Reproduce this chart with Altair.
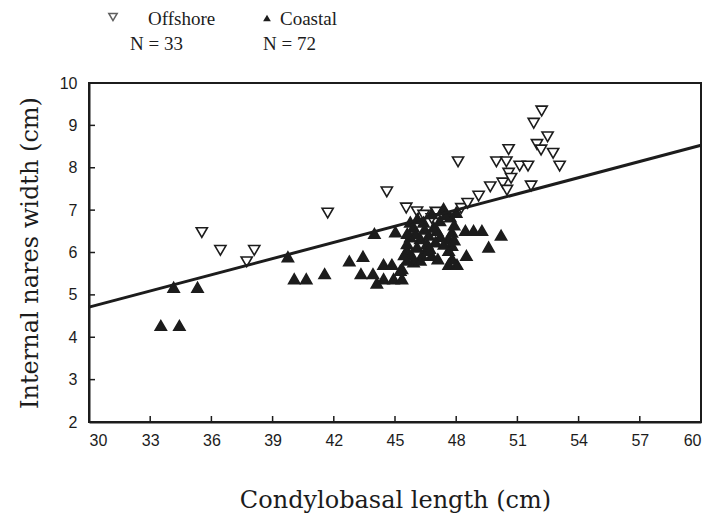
import altair as alt
import pandas as pd

# ---- data ----
offshore_x = [35.53, 36.44, 37.73, 38.10, 41.70, 44.60, 45.55, 46.08, 46.40, 48.09,
              48.25, 48.56, 49.10, 49.67, 49.97, 50.28, 50.46, 50.49, 50.57, 50.57,
              50.69, 51.11, 51.52, 51.67, 51.80, 51.96, 52.16, 52.19, 52.48, 52.75,
              53.07, 47.00, 46.80]
offshore_y = [6.47, 6.05, 5.78, 6.05, 6.93, 7.43, 7.05, 6.96, 6.88, 8.14,
              7.04, 7.16, 7.33, 7.55, 8.14, 7.64, 8.14, 7.47, 8.43, 7.87,
              7.75, 8.04, 8.04, 7.57, 9.05, 8.55, 8.42, 9.34, 8.73, 8.34,
              8.04, 6.95, 6.80]

coastal_x = [33.52, 34.43, 34.15, 35.32, 39.75, 40.06, 40.65, 41.55, 42.76, 43.43,
             43.33, 43.92, 44.11, 44.44, 44.85, 44.44, 44.93, 45.34, 43.99, 45.02,
             45.34, 46.80, 47.38, 47.71, 46.40, 45.91, 48.45, 48.85, 49.26, 50.20,
             49.59, 48.50, 47.63, 48.04, 46.80, 46.32, 45.91, 45.59, 47.79, 47.63,
             47.79, 47.22, 47.06, 46.65, 46.24, 45.75, 45.59, 45.59, 46.08, 46.57,
             46.98, 47.63, 46.24, 45.26, 45.75, 45.80, 46.00, 46.50, 46.90, 47.20,
             47.50, 47.90, 47.90, 46.10, 45.60, 46.70, 47.40, 47.10, 48.00, 46.45,
             45.45, 47.80]
coastal_y = [4.28, 4.28, 5.18, 5.18, 5.90, 5.38, 5.38, 5.50, 5.80, 5.91,
             5.50, 5.50, 5.28, 5.72, 5.72, 5.38, 5.38, 5.38, 6.45, 6.49,
             5.62, 6.92, 7.04, 6.84, 6.72, 6.60, 6.52, 6.52, 6.52, 6.41,
             6.13, 5.93, 5.72, 5.72, 5.93, 5.93, 5.78, 5.82, 6.17, 6.33,
             6.48, 6.38, 6.52, 6.41, 6.33, 6.37, 6.21, 6.05, 6.13, 6.21,
             6.25, 6.05, 5.82, 5.58, 6.72, 5.95, 6.45, 6.05, 6.60, 6.75,
             6.90, 6.65, 6.30, 6.80, 6.45, 6.10, 6.20, 5.85, 6.95, 6.55,
             5.95, 5.85]

fit_x = [30, 60]
fit_y = [4.71, 8.53]

groups = ["Offshore", "Coastal"]
n_labels = ["N = 33", "N = 72"]
x_ticks = [30, 33, 36, 39, 42, 45, 48, 51, 54, 57, 60]
y_ticks = [2, 3, 4, 5, 6, 7, 8, 9, 10]
x_inner_ticks = [33, 36, 39, 42, 45, 48, 51, 54, 57]
y_inner_ticks = [3, 4, 5, 6, 7, 8, 9]

W, H = 612, 339
INK = "#1c1c1c"
TITLE_FONT = "DejaVu Serif"

pts = pd.concat([
    pd.DataFrame({"x": offshore_x, "y": offshore_y, "g": groups[0]}),
    pd.DataFrame({"x": coastal_x, "y": coastal_y, "g": groups[1]}),
], ignore_index=True)

xs = alt.Scale(domain=[30, 60], nice=False, zero=False)
ys = alt.Scale(domain=[2, 10], nice=False, zero=False)

xaxis = alt.Axis(values=x_ticks, title="Condylobasal length (cm)", ticks=False,
                 labelPadding=10, titlePadding=40, grid=False,
                 titleFont=TITLE_FONT, titleFontSize=24)
yaxis = alt.Axis(values=y_ticks, title="Internal nares width (cm)", ticks=False,
                 labelPadding=12, titlePadding=17, grid=False, format="d",
                 titleFont=TITLE_FONT, titleFontSize=24)

points = alt.Chart(pts).mark_point(filled=True, stroke=INK, strokeWidth=1.6,
                                   size=125, opacity=1).encode(
    x=alt.X("x:Q", scale=xs, axis=xaxis),
    y=alt.Y("y:Q", scale=ys, axis=yaxis),
    shape=alt.Shape("g:N", scale=alt.Scale(domain=groups,
                                            range=["triangle-down", "triangle-up"]),
                    legend=None),
    fill=alt.Fill("g:N", scale=alt.Scale(domain=groups, range=["white", INK]),
                  legend=None),
)

fit = alt.Chart(pd.DataFrame({"x": fit_x, "y": fit_y})).mark_line(
    color=INK, strokeWidth=3).encode(
    x=alt.X("x:Q", scale=xs), y=alt.Y("y:Q", scale=ys))

xt = alt.Chart(pd.DataFrame({"t": x_inner_ticks})).mark_rule(
    color=INK, strokeWidth=1.5).encode(
    x=alt.X("t:Q", scale=xs), y=alt.value(H), y2=alt.value(H - 6))
yt = alt.Chart(pd.DataFrame({"t": y_inner_ticks})).mark_rule(
    color=INK, strokeWidth=1.5).encode(
    y=alt.Y("t:Q", scale=ys), x=alt.value(0), x2=alt.value(6))

one = pd.DataFrame({"k": [0]})
lg_font = "Liberation Serif"
leg = [
    alt.Chart(one).mark_point(shape="triangle-down", filled=False, stroke=INK,
                              strokeWidth=1.5, size=70).encode(
        x=alt.value(24), y=alt.value(-66)),
    alt.Chart(one).mark_text(align="left", baseline="middle", font=lg_font,
                             fontSize=19, color=INK).encode(
        x=alt.value(59), y=alt.value(-64), text=alt.value(groups[0])),
    alt.Chart(one).mark_point(shape="triangle-up", filled=True, fill=INK,
                              size=60, opacity=1).encode(
        x=alt.value(178), y=alt.value(-65)),
    alt.Chart(one).mark_text(align="left", baseline="middle", font=lg_font,
                             fontSize=19, color=INK).encode(
        x=alt.value(191), y=alt.value(-64), text=alt.value(groups[1])),
    alt.Chart(one).mark_text(align="left", baseline="middle", font=lg_font,
                             fontSize=19, color=INK).encode(
        x=alt.value(41), y=alt.value(-39), text=alt.value(n_labels[0])),
    alt.Chart(one).mark_text(align="left", baseline="middle", font=lg_font,
                             fontSize=19, color=INK).encode(
        x=alt.value(174), y=alt.value(-39), text=alt.value(n_labels[1])),
]

chart = alt.layer(points, fit, xt, yt, *leg).properties(
    width=W, height=H,
    autosize=alt.AutoSizeParams(type="none"),
    padding={"left": 81, "top": 75, "right": 4, "bottom": 100},
).configure_view(stroke=INK, strokeWidth=2).configure_axis(
    domainColor=INK, domainWidth=2,
    labelFont="Liberation Sans", labelFontSize=16, labelColor=INK,
    titleFontWeight="normal", titleColor=INK,
)

chart.save("out.html", embed_options={"renderer": "svg", "actions": False})
